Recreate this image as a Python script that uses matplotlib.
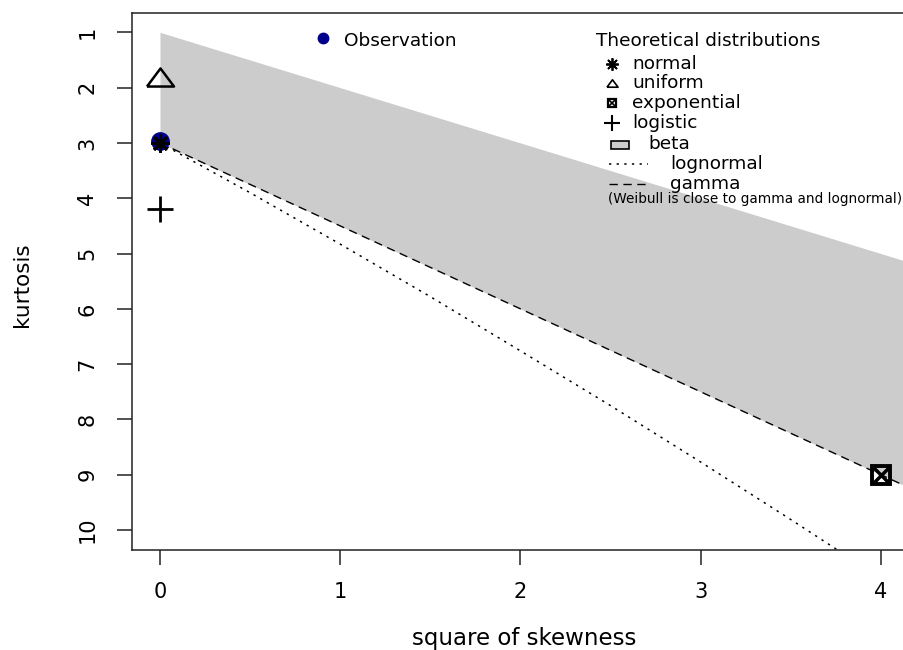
import matplotlib
matplotlib.use("Agg")
import matplotlib.pyplot as plt
from matplotlib.lines import Line2D
from matplotlib.patches import Rectangle

W, H = 904, 650

# ── Data ──
obs_skew2 = [0.0]
obs_kurt = [2.96]

normal_pt = (0.0, 3.0)
uniform_pt = (0.0, 1.8)
expo_pt = (4.0, 9.0)
logis_pt = (0.0, 4.2)

# beta region: between upper edge (kurt = s2 + 1) and gamma line
beta_skew2 = [0.0, 4.4]
beta_kurt_top = [1.0, 5.4]
beta_kurt_bottom = [3.0, 9.6]

gamma_skew2 = [0.0, 4.4]
gamma_kurt = [3.0, 9.6]

lnorm_skew2 = [0.0, 0.5, 1.0, 1.5, 2.0, 2.5, 3.0, 3.5, 4.0]
lnorm_kurt = [3.0, 3.90, 4.83, 5.78, 6.76, 7.75, 8.77, 9.81, 10.87]

x_ticks = [0, 1, 2, 3, 4]
y_ticks = [1, 2, 3, 4, 5, 6, 7, 8, 9, 10]

legend_names = ["normal", "uniform", "exponential", "logistic", "beta", "lognormal", "gamma"]

GRAY = "#cccccc"
OBS_COLOR = "#00008b"
DASH_GAMMA = (0, (6, 4))
DOT_LNORM = (0, (1.5, 3.5))
TRI = [(-1, -0.667), (1, -0.667), (0, 0.667), (-1, -0.667)]


def fx(px):
    return px / W


def fy(py):
    return 1 - py / H


fig = plt.figure(figsize=(W / 100, H / 100), dpi=100)
# plot region runs past the right edge of the picture, as in the reference
ax = fig.add_axes([fx(131.7), fy(550), (930 - 131.7) / W, (550 - 12.7) / H])

# ── Main plot ──
ax.fill_between(beta_skew2, beta_kurt_top, beta_kurt_bottom, color=GRAY, lw=0, zorder=1)
ax.plot(gamma_skew2, gamma_kurt, color="black", ls=DASH_GAMMA, lw=1.0, zorder=2)
ax.plot(lnorm_skew2, lnorm_kurt, color="black", ls=DOT_LNORM, lw=1.1, zorder=2)

ax.plot(obs_skew2, obs_kurt, "o", color=OBS_COLOR, ms=12.5, zorder=3)
ax.plot(*normal_pt, marker=(8, 2, 0), color="black", ms=13, mew=2, zorder=4)
ax.plot(*uniform_pt, marker=TRI, mfc="none", mec="black", ms=19.5, mew=1.8, zorder=4)
ax.plot(*logis_pt, marker="+", color="black", ms=19, mew=2, zorder=4)
ax.plot(*expo_pt, marker="s", mfc="none", mec="black", ms=13, mew=2.8, zorder=4)
ax.plot(*expo_pt, marker="x", color="black", ms=12, mew=2.5, zorder=4)

ax.set_xlim(-0.157, 4.2 + 13 / 180.2)
ax.set_ylim(10.36, 0.645)
ax.set_xticks(x_ticks)
ax.set_yticks(y_ticks)
ax.tick_params(axis="both", direction="out", length=10.8, width=1.1, color="#222222")
ax.tick_params(axis="x", labelsize=15, pad=12)
ax.tick_params(axis="y", labelsize=15, pad=14, labelrotation=90)
for lab in ax.get_yticklabels():
    lab.set_va("center")
for sp in ax.spines.values():
    sp.set_linewidth(1.1)
    sp.set_color("#222222")

ax.set_xlabel("square of skewness", fontsize=16.5)
ax.xaxis.set_label_coords((524 - 131.7) / (930 - 131.7), (550 - 638) / (550 - 12.7))
ax.xaxis.label.set_va("center")
ax.set_ylabel("kurtosis", fontsize=15.5)
ax.yaxis.set_label_coords((22 - 131.7) / (930 - 131.7), (550 - 285) / (550 - 12.7))
ax.yaxis.label.set_va("center")

# ── Legends (R-style, placed in pixel space) ──
fig.add_artist(Line2D([fx(323)], [fy(38)], transform=fig.transFigure, marker="o",
                      color=OBS_COLOR, ms=7.5, ls="none"))
fig.text(fx(344), fy(41), "Observation", fontsize=13.3, va="center", ha="left")
fig.text(fx(596), fy(41), "Theoretical distributions", fontsize=13.3, va="center", ha="left")

row_y = [64, 83, 103, 123, 144, 164, 184]
text_x = [632, 632, 632, 632, 648, 670, 670]
sym_x = 612
sym_kw = [
    dict(marker=(8, 2, 0), color="black", ms=9, mew=1.3),
    dict(marker=TRI, mfc="none", mec="black", ms=8, mew=1.2),
    dict(marker="s", mfc="none", mec="black", ms=5.5, mew=1.6),
    dict(marker="+", color="black", ms=12, mew=1.5),
]
for i, kw in enumerate(sym_kw):
    fig.add_artist(Line2D([fx(sym_x)], [fy(row_y[i])], transform=fig.transFigure, ls="none", **kw))
fig.add_artist(Line2D([fx(sym_x)], [fy(row_y[2])], transform=fig.transFigure, ls="none",
                      marker="x", color="black", ms=4, mew=1.2))
fig.add_artist(Rectangle((fx(611), fy(149)), 18 / W, 8 / H, transform=fig.transFigure,
                         facecolor=GRAY, edgecolor="black", lw=1.2))
fig.add_artist(Line2D([fx(609), fx(648)], [fy(row_y[5])] * 2, transform=fig.transFigure,
                      color="black", ls=DOT_LNORM, lw=1.1))
fig.add_artist(Line2D([fx(609), fx(648)], [fy(row_y[6])] * 2, transform=fig.transFigure,
                      color="black", ls=DASH_GAMMA, lw=1.0))
for name, tx, ty in zip(legend_names, text_x, row_y):
    fig.text(fx(tx), fy(ty), name, fontsize=13.3, va="center", ha="left")
fig.text(fx(608), fy(199), "(Weibull is close to gamma and lognormal)", fontsize=9.8,
         va="center", ha="left")

fig.savefig("out.png", dpi=100)
